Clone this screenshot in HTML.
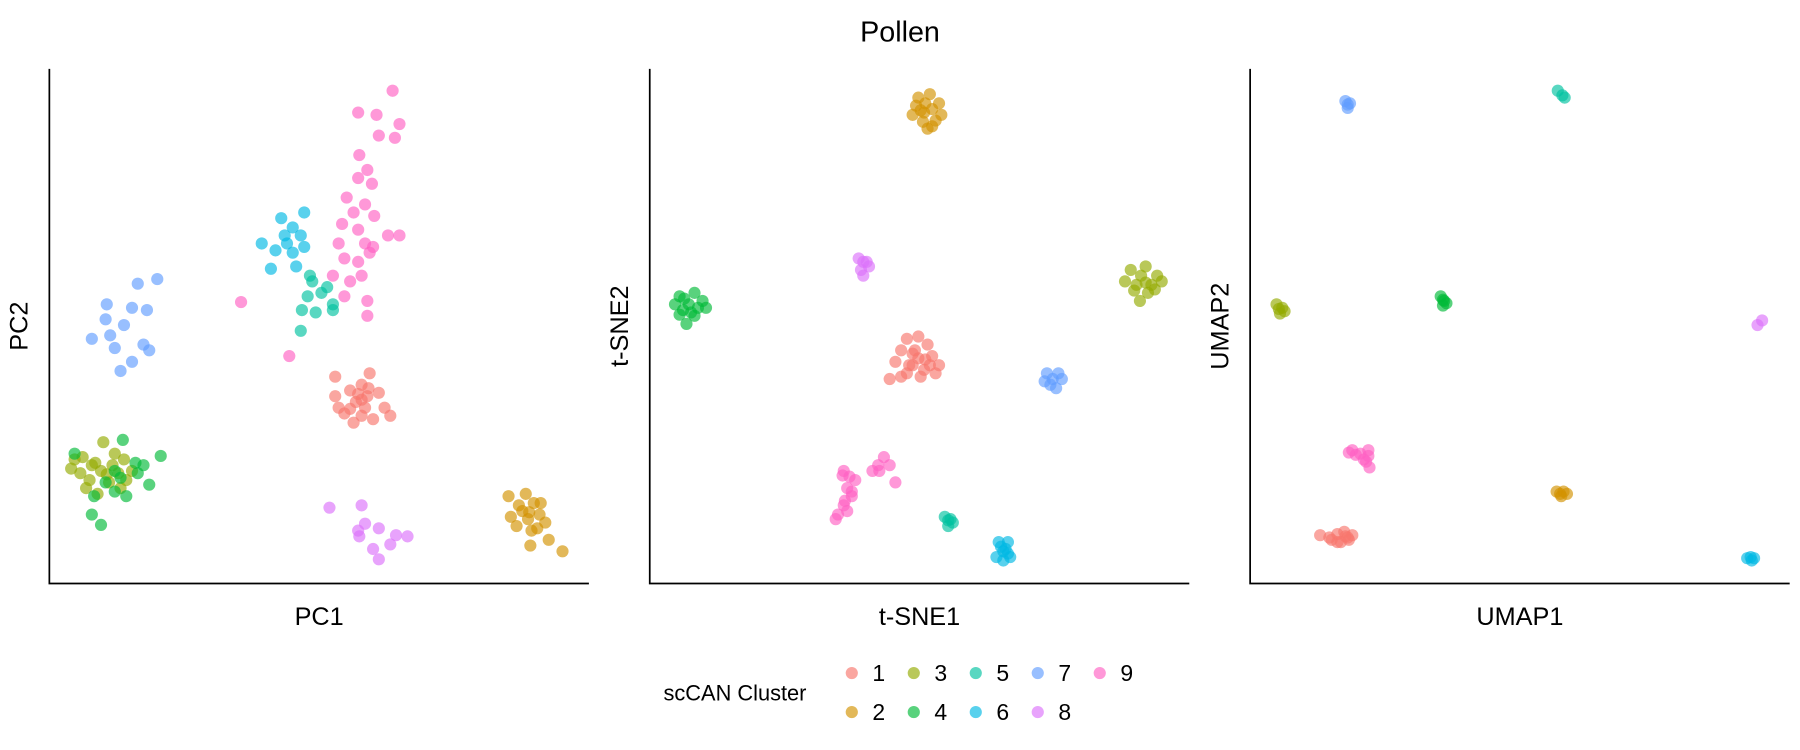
<!DOCTYPE html>
<html><head><meta charset="utf-8"><style>
html,body{margin:0;padding:0;background:#fff;}
svg{display:block;font-family:"Liberation Sans",sans-serif;}
</style></head><body>
<svg id="chart" width="1800" height="750" viewBox="0 0 1568 653" preserveAspectRatio="none" xmlns="http://www.w3.org/2000/svg">
<text x="784" y="36" font-size="25" text-anchor="middle">Pollen</text>
<g id="panels"></g>
<g id="legend"></g>
</svg>
<script>
const clusterNames = ["1","2","3","4","5","6","7","8","9"];
const clusterColors = ["#F8766D","#D39200","#93AA00","#00BA38","#00C19F","#00B9E3","#619CFF","#DB72FB","#FF61C3"];
const axisTitles = [["PC1","PC2"],["t-SNE1","t-SNE2"],["UMAP1","UMAP2"]];

const pcaData = [
 [[249,180],[279,183],[272,173],[262,168],[277,163],[287,166],[252,153],[267,158],[275,153],[292,153],[257,148],[272,146],[282,143],[297,146],[265,140],[249,163],[269,165],[272,160],[278,170],[262,152]],
 [[400,76],[415,78],[409,68],[422,70],[402,58],[417,56],[427,60],[432,53],[407,50],[420,46],[435,38],[419,33],[447,28],[412,63],[425,48],[418,62],[428,70]],
 [[22,108],[29,110],[37,103],[47,123],[57,113],[65,108],[72,98],[27,96],[35,90],[45,98],[52,88],[62,83],[42,78],[32,83],[19,100],[67,90],[55,103],[40,105],[50,95],[60,96]],
 [[22,113],[64,125],[97,111],[77,96],[87,86],[67,76],[57,80],[39,76],[37,60],[45,51],[49,88],[82,103],[57,98],[75,105],[62,92]],
 [[229,263],[225,250],[237,253],[220,238],[232,236],[247,243],[242,258],[227,268],[219,220],[247,238]],
 [[202,318],[222,323],[212,310],[219,303],[207,296],[197,290],[185,296],[222,293],[215,276],[193,274],[205,303],[212,288]],
 [[77,261],[94,265],[50,243],[72,240],[85,238],[49,230],[65,225],[37,213],[53,216],[82,208],[57,205],[87,203],[72,193],[62,185]],
 [[244,66],[272,68],[275,52],[287,48],[270,41],[302,42],[312,41],[282,30],[297,34],[287,21],[269,46]],
 [[299,429],[269,410],[285,408],[305,400],[287,390],[301,388],[270,373],[277,360],[269,353],[281,348],[259,336],[275,330],[265,323],[283,320],[255,313],[269,308],[295,303],[305,303],[275,296],[252,296],[279,288],[257,283],[269,280],[272,268],[262,263],[257,250],[277,233],[277,246],[167,245],[209,198],[247,268],[282,293]]
];
const tsneData = [
 [[224,213],[234,215],[242,208],[219,203],[231,203],[246,198],[214,193],[229,190],[252,190],[224,183],[236,180],[209,178],[219,180],[249,183],[234,196],[239,186],[229,200],[240,195],[226,190],[244,190]],
 [[234,423],[244,426],[252,418],[229,408],[239,410],[249,403],[242,396],[254,408],[232,416],[246,413],[240,418],[238,402],[246,398],[236,412]],
 [[419,273],[432,276],[442,268],[424,260],[434,253],[446,263],[427,246],[414,263],[437,260],[428,268],[432,262],[422,255],[440,256]],
 [[26,250],[39,253],[46,246],[29,238],[39,233],[32,226],[22,243],[49,240],[34,243],[30,248],[42,240],[36,236],[26,234]],
 [[257,58],[262,56],[260,50],[264,53],[260,55]],
 [[304,36],[312,36],[308,28],[302,23],[314,23],[308,20],[310,30],[306,32],[312,26]],
 [[346,183],[356,183],[349,173],[354,170],[344,176],[359,178],[351,178]],
 [[182,283],[189,280],[184,273],[186,268],[191,276],[186,280]],
 [[169,98],[174,93],[204,110],[199,103],[209,103],[194,98],[179,90],[214,88],[172,83],[176,76],[169,68],[164,60],[172,63],[162,56],[168,94],[200,98],[170,72],[176,80]]
];
const umapData = [
 [[61,42],[69,40],[76,43],[83,41],[86,38],[79,36],[71,38],[89,42],[82,45],[76,36],[85,40]],
 [[267,80],[273,80],[271,76],[276,78],[270,78]],
 [[23,243],[28,240],[26,235],[30,237],[25,239]],
 [[166,250],[169,246],[168,242],[171,244],[168,247]],
 [[268,429],[272,425],[274,423]],
 [[433,22],[439,22],[437,20],[436,23]],
 [[83,420],[87,418],[85,414],[85,417]],
 [[442,225],[446,229]],
 [[89,116],[96,113],[103,116],[99,108],[104,101],[101,106],[92,112],[86,114],[103,111]]
];
const panelData = [pcaData, tsneData, umapData];
const panelKeys = ["pca","tsne","umap"];

const NS = "http://www.w3.org/2000/svg";
const panelLeft = [43, 566, 1089];
const panelW = 470, panelTop = 60, panelBottom = 508;
const xDomain = [0, 470], yDomain = [0, 448];
function sx(p, v){ return panelLeft[p] + (v - xDomain[0]) / (xDomain[1]-xDomain[0]) * panelW; }
function sy(v){ return panelBottom - (v - yDomain[0]) / (yDomain[1]-yDomain[0]) * (panelBottom - panelTop); }
function mk(tag, attrs, parent){ const e=document.createElementNS(NS,tag); for(const k in attrs) e.setAttribute(k,attrs[k]); parent.appendChild(e); return e; }

const panels = document.getElementById("panels");
panelData.forEach((data, p) => {
  const g = mk("g", {}, panels);
  
  
  data.forEach((pts, c) => {
    pts.forEach(pt => {
      const dot = mk("circle", {cx: sx(p, pt[0]), cy: sy(pt[1]), r: 5.3, fill: clusterColors[c], "fill-opacity": 0.65}, g);
      
      
    });
  });
  const ax = mk("path", {d: `M${panelLeft[p]},${panelTop} V${panelBottom} H${panelLeft[p]+panelW}`, fill: "none", stroke: "#000", "stroke-width": 1.5}, g);
  
  
  const xt = mk("text", {x: panelLeft[p] + panelW/2, y: 544, "font-size": 22, "text-anchor": "middle"}, g);
  xt.textContent = axisTitles[p][0];
  
  
  const yx = panelLeft[p] - 19, yy = 284;
  const yt = mk("text", {x: yx, y: yy, "font-size": 22, "text-anchor": "middle", transform: `rotate(-90 ${yx} ${yy})`}, g);
  yt.textContent = axisTitles[p][1];
  
  
});

const legend = document.getElementById("legend");
const lt = mk("text", {x: 578, y: 610, "font-size": 19}, legend);
lt.textContent = "scCAN Cluster";


clusterNames.forEach((name, i) => {
  const col = Math.floor(i/2), row = i % 2;
  const kx = 742 + col*54, ky = row ? 620 : 586;
  const g = mk("g", {}, legend);
  
  
  mk("circle", {cx: kx, cy: ky, r: 5.3, fill: clusterColors[i], "fill-opacity": 0.65}, g);
  const t = mk("text", {x: kx + 18, y: ky + 7, "font-size": 20}, g);
  t.textContent = name;
});
</script>
</body></html>
